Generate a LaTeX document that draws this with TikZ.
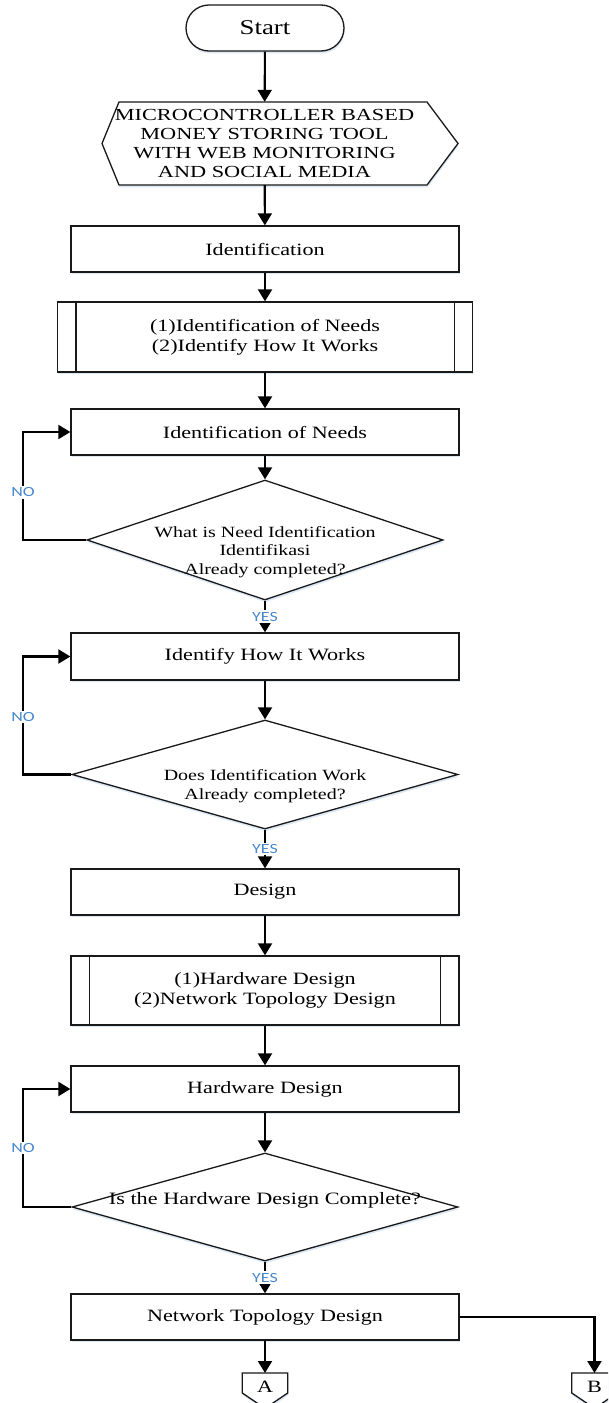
\documentclass[tikz,border=0pt]{standalone}
\usepackage{fontspec}
\setmainfont{Liberation Serif}[FakeStretch=1.28]
\newfontfamily\titlefont{Liberation Serif}[FakeStretch=1.32]
\newfontfamily\lblfont{Carlito}[FakeStretch=1.28]
\usetikzlibrary{arrows.meta,shapes.geometric,shadows,calc}
\definecolor{labelblue}{RGB}{72,135,205}
\definecolor{shadowblue}{RGB}{205,222,240}
\tikzset{
  softshadow/.style={drop shadow={shadow xshift=0.6pt, shadow yshift=-2.4pt,
      fill=shadowblue, opacity=0.7}},
  outline/.style={draw=black!90, line width=1.3pt, fill=white, softshadow},
  procbox/.style={outline, rectangle, minimum width=388pt, minimum height=46pt,
      inner sep=0pt, align=center, font=\fontsize{17.3}{20}\selectfont},
  predef/.style={procbox, minimum height=70pt},
  decision/.style={outline, diamond, inner sep=0pt},
  terminal/.style={outline, rectangle, rounded corners=23pt, minimum width=158pt,
      minimum height=46pt, inner sep=0pt, font=\fontsize{21}{24}\selectfont},
  offpage/.style={inner sep=0pt, minimum width=45pt, minimum height=28pt, anchor=north},
  flow/.style={draw=black, line width=2.1pt, -{Triangle[length=12pt,width=14pt]}},
  answer/.style={font={\lblfont\fontsize{14}{16}\selectfont}, text=labelblue,
      fill=white, inner sep=1.5pt},
  dtext/.style={font=\fontsize{15.6}{18.5}\selectfont, align=center, inner sep=0pt},
  ctext/.style={font=\fontsize{17.3}{20}\selectfont, inner sep=0pt},
}
\begin{document}
\begin{tikzpicture}[x=1pt, y=-1pt]
  \useasboundingbox (0,0) rectangle (608,1403);
  \clip (0,0) rectangle (608,1403);

  % x position of the "NO" return lines
  \coordinate (loopx) at (23,0);

  % start terminal and title hexagon
  \node[terminal] (start) at (265,28) {Start};
  \draw[outline] (102,143.5) -- (119,102) -- (427,102) -- (458,143.5)
      -- (427,185) -- (119,185) -- cycle;
  \node[inner sep=0pt, minimum width=356pt, minimum height=83pt, align=center,
      font=\titlefont\fontsize{16.9}{19}\selectfont] (hex) at (264.5,143.5)
      {MICROCONTROLLER BASED\\MONEY STORING TOOL\\WITH WEB MONITORING\\AND SOCIAL MEDIA};

  % identification stage
  \node[procbox] (idf) at (265,249) {Identification};
  \node[predef, minimum width=415pt] (pp1) at (265,337)
      {(1)Identification of Needs\\(2)Identify How It Works};
  \draw[draw=black!90, line width=1.3pt]
      ($(pp1.north west)+(19,0)$) -- ($(pp1.south west)+(19,0)$)
      ($(pp1.north east)+(-19,0)$) -- ($(pp1.south east)+(-19,0)$);
  \node[procbox] (need) at (265,432) {Identification of Needs};
  \node[decision, minimum width=356pt, minimum height=120pt] (d1) at (265,540) {};
  \node[dtext] at (265,552) {What is Need Identification\\Identifikasi\\Already completed?};
  \node[procbox, minimum height=47pt] (how) at (265,656.5) {Identify How It Works};
  \node[decision, minimum width=386pt, minimum height=109pt] (d2) at (265,774.5) {};
  \node[dtext] at (265,786) {Does Identification Work\\Already completed?};

  % design stage
  \node[procbox] (des) at (265,892) {Design};
  \node[predef, minimum height=69pt] (pp2) at (265,990.5)
      {(1)Hardware Design\\(2)Network Topology Design};
  \draw[draw=black!90, line width=1.3pt]
      ($(pp2.north west)+(19,0)$) -- ($(pp2.south west)+(19,0)$)
      ($(pp2.north east)+(-19,0)$) -- ($(pp2.south east)+(-19,0)$);
  \node[procbox] (hw) at (265,1089) {Hardware Design};
  \node[decision, minimum width=386pt, minimum height=108pt] (d3) at (265,1207) {};
  \node[dtext, font=\fontsize{17.35}{20}\selectfont] at (265,1200)
      {Is the Hardware Design Complete?};
  \node[procbox] (net) at (265,1317) {Network Topology Design};

  % off-page connectors
  \node[offpage] (offA) at (265,1373) {};
  \draw[outline] (offA.north west) -- (offA.north east) -- ($(offA.north east)+(0,20)$)
      -- ($(offA.south)+(0,7)$) -- ($(offA.north west)+(0,20)$) -- cycle;
  \node[ctext] at (offA.center) {A};
  \node[offpage] (offB) at (594.5,1373) {};
  \draw[outline] (offB.north west) -- (offB.north east) -- ($(offB.north east)+(0,20)$)
      -- ($(offB.south)+(0,7)$) -- ($(offB.north west)+(0,20)$) -- cycle;
  \node[ctext] at (offB.center) {B};

  % connectors
  \draw[flow] (start) -- (hex);
  \draw[flow] (hex) -- (idf);
  \draw[flow] (idf) -- (pp1);
  \draw[flow] (pp1) -- (need);
  \draw[flow] (need) -- (d1);
  \draw[flow] (d1) -- node[answer]{YES} (how);
  \draw[flow] (d1.west) -- (d1.west -| loopx)
      -- node[answer, pos=0.44]{NO} (need.west -| loopx) -- (need.west);
  \draw[flow] (how) -- (d2);
  \draw[flow] (d2) -- node[answer]{YES} (des);
  \draw[flow] (d2.west) -- (d2.west -| loopx)
      -- node[answer, pos=0.49]{NO} (how.west -| loopx) -- (how.west);
  \draw[flow] (des) -- (pp2);
  \draw[flow] (pp2) -- (hw);
  \draw[flow] (hw) -- (d3);
  \draw[flow] (d3) -- node[answer]{YES} (net);
  \draw[flow] (d3.west) -- (d3.west -| loopx)
      -- node[answer, pos=0.5]{NO} (hw.west -| loopx) -- (hw.west);
  \draw[flow] (net) -- (offA);
  \draw[flow] (net.east) -| (offB);
\end{tikzpicture}
\end{document}
